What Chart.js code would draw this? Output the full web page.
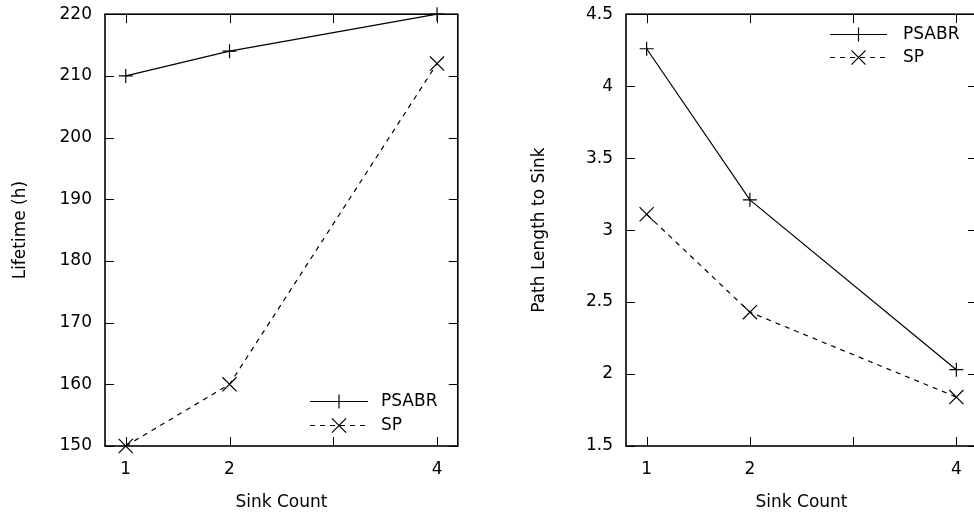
<!DOCTYPE html>
<html>
<head>
<meta charset="utf-8">
<script src="https://cdn.jsdelivr.net/npm/chart.js@4/dist/chart.umd.min.js"></script>
<style>
  html, body { margin: 0; padding: 0; background: #fff; overflow: hidden; }
  body { width: 974px; height: 515px; position: relative; }
  .panel { position: absolute; top: -9px; height: 524px; }
</style>
</head>
<body>
<div class="panel" style="left:0; width:469px;"><canvas id="lifetime-chart"></canvas></div>
<div class="panel" style="left:500px; width:490px;"><canvas id="path-chart"></canvas></div>
<script>
// data
const sinkCounts = [1, 2, 4];
const xTickValues = [1, 2, 3, 4];
const seriesNames = ['PSABR', 'SP'];

const lifetimePSABR = [210, 214, 220];
const lifetimeSP = [150, 160, 212];

const pathPSABR = [4.26, 3.21, 2.03];
const pathSP = [3.11, 2.43, 1.84];

const FONT = "'DejaVu Sans', sans-serif";
Chart.defaults.font.family = FONT;
Chart.defaults.font.size = 17;
Chart.defaults.color = '#000';

// gnuplot-like frame with inward ticks on all four sides + key
const gnuplotFrame = {
  id: 'gnuplotFrame',
  afterDatasetsDraw(chart, args, opts) {
    const ctx = chart.ctx;
    const { left, right, top, bottom } = chart.chartArea;
    const tick = 9;
    ctx.save();
    ctx.strokeStyle = '#000';
    ctx.lineWidth = 1.6;
    ctx.setLineDash([]);
    ctx.strokeRect(left, top, right - left, bottom - top);

    ctx.lineWidth = 1;
    chart.scales.x.ticks.forEach(t => {
      const px = Math.round(chart.scales.x.getPixelForValue(t.value)) + 0.5;
      ctx.beginPath();
      ctx.moveTo(px, bottom); ctx.lineTo(px, bottom - tick);
      ctx.moveTo(px, top); ctx.lineTo(px, top + tick);
      ctx.stroke();
    });
    chart.scales.y.ticks.forEach(t => {
      const py = Math.round(chart.scales.y.getPixelForValue(t.value)) + 0.5;
      ctx.beginPath();
      ctx.moveTo(left, py); ctx.lineTo(left + tick, py);
      ctx.moveTo(right, py); ctx.lineTo(right - tick, py);
      ctx.stroke();
    });

    // key
    const k = opts.key;
    chart.data.datasets.forEach((ds, i) => {
      const y = k.y + i * k.rowH;
      ctx.strokeStyle = ds.borderColor;
      ctx.lineWidth = ds.borderWidth;
      ctx.setLineDash(ds.borderDash || []);
      ctx.beginPath();
      ctx.moveTo(k.x, y + 0.5);
      ctx.lineTo(k.x + k.lineLen, y + 0.5);
      ctx.stroke();
      ctx.setLineDash([]);
      Chart.helpers.drawPoint(ctx, {
        pointStyle: ds.pointStyle, radius: ds.pointRadius, rotation: 0, borderWidth: 1.2
      }, k.x + k.lineLen / 2, y + 0.5);
      ctx.fillStyle = '#000';
      ctx.font = '17px ' + FONT;
      ctx.textAlign = 'left';
      ctx.textBaseline = 'middle';
      ctx.fillText(ds.label, k.x + k.lineLen + k.gap, y + 1);
    });
    ctx.restore();
  }
};

function makeDatasets(a, b) {
  return [
    {
      label: seriesNames[0],
      data: sinkCounts.map((x, i) => ({ x, y: a[i] })),
      borderColor: '#000', borderWidth: 1.2, pointStyle: 'cross', pointRadius: 7,
      pointBorderColor: '#000', pointBorderWidth: 1.2, clip: false
    },
    {
      label: seriesNames[1],
      data: sinkCounts.map((x, i) => ({ x, y: b[i] })),
      borderColor: '#000', borderWidth: 1.2, borderDash: [5, 5], pointStyle: 'crossRot', pointRadius: 10,
      pointBorderColor: '#000', pointBorderWidth: 1.2, clip: false
    }
  ];
}

function makeChart(id, a, b, yCfg, layout) {
  new Chart(document.getElementById(id), {
    type: 'line',
    data: { datasets: makeDatasets(a, b) },
    plugins: [gnuplotFrame],
    options: {
      responsive: true,
      maintainAspectRatio: false,
      animation: false,
      layout: { padding: { top: 14, right: layout.padRight, left: 0, bottom: 0 } },
      scales: {
        x: {
          type: 'linear', min: 0.8, max: 4.2,
          afterBuildTicks: s => { s.ticks = xTickValues.map(v => ({ value: v })); },
          afterFit: s => { s.height = 69; },
          ticks: {
            padding: 13, autoSkip: false, maxRotation: 0,
            callback: v => sinkCounts.includes(v) ? String(v) : ''
          },
          grid: { display: false, drawTicks: false },
          border: { display: false },
          title: { display: true, text: 'Sink Count', padding: { top: 0, bottom: 2 } }
        },
        y: {
          type: 'linear', min: yCfg.min, max: yCfg.max,
          afterFit: s => { s.width = layout.yWidth; },
          ticks: { stepSize: yCfg.step, padding: 13, callback: v => String(Math.round(v * 10) / 10) },
          grid: { display: false, drawTicks: false },
          border: { display: false },
          title: { display: true, text: yCfg.title, padding: { top: layout.titlePad, bottom: 0 } }
        }
      },
      plugins: {
        legend: { display: false },
        tooltip: { enabled: false },
        gnuplotFrame: { key: layout.key }
      }
    }
  });
}

makeChart('lifetime-chart', lifetimePSABR, lifetimeSP,
  { min: 150, max: 220, step: 10, title: 'Lifetime (h)' },
  { yWidth: 105, padRight: 2, titlePad: 10, key: { x: 310, y: 410, rowH: 24, lineLen: 58, gap: 13 } });

makeChart('path-chart', pathPSABR, pathSP,
  { min: 1.5, max: 4.5, step: 0.5, title: 'Path Length to Sink' },
  { yWidth: 126, padRight: 13, titlePad: 29, key: { x: 330, y: 43, rowH: 23, lineLen: 57, gap: 16 } });
</script>
</body>
</html>
